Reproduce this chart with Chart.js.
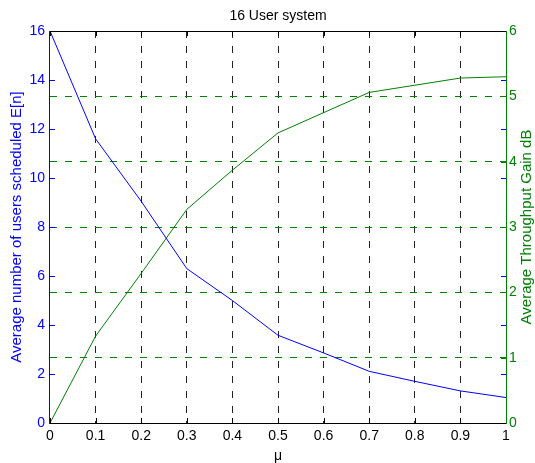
<!DOCTYPE html>
<html>
<head>
<meta charset="utf-8">
<script src="https://cdn.jsdelivr.net/npm/chart.js@4"></script>
<style>
  html, body { margin: 0; padding: 0; background: #fff; }
  canvas { display: block; }
</style>
</head>
<body>
<canvas id="chart" width="535" height="463"></canvas>
<script>
// data
const mu = [0, 0.1, 0.2, 0.3, 0.4, 0.5, 0.6, 0.7, 0.8, 0.9, 1];
const usersScheduled = [16, 11.6, 9.05, 6.3, 5.0, 3.58, 2.86, 2.11, 1.7, 1.31, 1.04];
const throughputGain = [0, 1.33, 2.29, 3.27, 3.87, 4.44, 4.75, 5.06, 5.17, 5.28, 5.3];

const xTickLabels = ['0', '0.1', '0.2', '0.3', '0.4', '0.5', '0.6', '0.7', '0.8', '0.9', '1'];
const leftTicks = [0, 2, 4, 6, 8, 10, 12, 14, 16];
const rightTicks = [0, 1, 2, 3, 4, 5, 6];

const BLUE = '#0000ff';
const GREEN = '#008000';
const FONT = "'Liberation Sans', Arial, Helvetica, sans-serif";

const matlabFrame = {
    id: 'matlabFrame',
    afterDraw(chart) {
        const c = chart.ctx;
        const a = chart.chartArea;
        const yl = chart.scales.yLeft;
        const yr = chart.scales.yRight;
        const x = chart.scales.x;
        c.save();
        c.lineWidth = 1;
        c.setLineDash([]);

        // inner ticks
        c.strokeStyle = '#000';
        c.beginPath();
        mu.forEach(function (v) {
            const px = Math.round(x.getPixelForValue(v)) + 0.5;
            c.moveTo(px, a.bottom); c.lineTo(px, a.bottom - 5);
            c.moveTo(px, a.top); c.lineTo(px, a.top + 5);
        });
        c.stroke();
        c.strokeStyle = BLUE;
        c.beginPath();
        leftTicks.forEach(function (v) {
            const py = Math.round(yl.getPixelForValue(v)) + 0.5;
            c.moveTo(a.left, py); c.lineTo(a.left + 5, py);
            c.moveTo(a.right, py); c.lineTo(a.right - 5, py);
        });
        c.stroke();
        c.strokeStyle = GREEN;
        c.beginPath();
        rightTicks.forEach(function (v) {
            const py = Math.round(yr.getPixelForValue(v)) + 0.5;
            c.moveTo(a.right, py); c.lineTo(a.right - 5, py);
        });
        c.stroke();

        // frame
        c.strokeStyle = '#000';
        c.beginPath();
        c.moveTo(a.left, a.top + 0.5); c.lineTo(a.right, a.top + 0.5);
        c.moveTo(a.left, a.bottom + 0.5); c.lineTo(a.right, a.bottom + 0.5);
        c.stroke();
        c.strokeStyle = BLUE;
        c.beginPath();
        c.moveTo(a.left - 0.5, a.top); c.lineTo(a.left - 0.5, a.bottom + 1);
        c.stroke();
        c.strokeStyle = GREEN;
        c.beginPath();
        c.moveTo(a.right + 0.5, a.top); c.lineTo(a.right + 0.5, a.bottom + 1);
        c.stroke();

        // title, centred on the plot area
        c.fillStyle = '#000';
        c.font = '14px ' + FONT;
        c.textAlign = 'center';
        c.textBaseline = 'middle';
        c.fillText('16 User system', (a.left + a.right) / 2, 16);

        // right axis title reads bottom to top
        c.fillStyle = GREEN;
        c.font = '15px ' + FONT;
        c.translate(527, (a.top + a.bottom) / 2);
        c.rotate(-Math.PI / 2);
        c.fillText('Average Throughput Gain dB', 0, 0);
        c.restore();
    }
};

const ctx = document.getElementById('chart').getContext('2d');
new Chart(ctx, {
    type: 'line',
    data: {
        datasets: [{
            label: 'E[n]',
            data: mu.map((m, i) => ({ x: m, y: usersScheduled[i] })),
            borderColor: BLUE,
            borderWidth: 1,
            pointRadius: 0,
            yAxisID: 'yLeft'
        }, {
            label: 'Gain',
            data: mu.map((m, i) => ({ x: m, y: throughputGain[i] })),
            borderColor: GREEN,
            borderWidth: 1,
            pointRadius: 0,
            yAxisID: 'yRight'
        }]
    },
    options: {
        responsive: false,
        animation: false,
        devicePixelRatio: 1,
        layout: { padding: { top: 31, left: 0, right: 0, bottom: 0 } },
        plugins: {
            legend: { display: false },
            tooltip: { enabled: false },
            title: { display: false }
        },
        scales: {
            x: {
                type: 'linear',
                min: 0,
                max: 1,
                afterBuildTicks: s => { s.ticks = mu.map(v => ({ value: v })); },
                afterFit: s => { s.height = 40; },
                ticks: {
                    color: '#000',
                    font: { family: FONT, size: 14 },
                    padding: 5,
                    maxRotation: 0,
                    autoSkip: false,
                    callback: (v, i) => xTickLabels[i]
                },
                grid: {
                    drawTicks: false,
                    lineWidth: 1,
                    color: c => (c.tick && c.tick.value > 0.001 && c.tick.value < 0.999) ? '#222' : 'rgba(0,0,0,0)'
                },
                border: { display: false, dash: [7, 8] },
                title: {
                    display: true,
                    text: 'μ',
                    color: '#000',
                    font: { family: FONT, size: 14, lineHeight: 1 },
                    padding: 0
                }
            },
            yLeft: {
                position: 'left',
                min: 0,
                max: 16,
                afterBuildTicks: s => { s.ticks = leftTicks.map(v => ({ value: v })); },
                afterFit: s => { s.width = 50; },
                ticks: {
                    color: BLUE,
                    font: { family: FONT, size: 14 },
                    padding: 5
                },
                grid: { display: false, drawTicks: false },
                border: { display: false },
                title: {
                    display: true,
                    text: 'Average number of users scheduled E[n]',
                    color: BLUE,
                    font: { family: FONT, size: 15, lineHeight: 1.2 },
                    padding: { top: 8, bottom: 0 }
                }
            },
            yRight: {
                position: 'right',
                min: 0,
                max: 6,
                afterBuildTicks: s => { s.ticks = rightTicks.map(v => ({ value: v })); },
                afterFit: s => { s.width = 29; },
                ticks: {
                    color: GREEN,
                    font: { family: FONT, size: 14 },
                    padding: 3
                },
                grid: {
                    drawTicks: false,
                    lineWidth: 1,
                    color: c => (c.tick && c.tick.value > 0 && c.tick.value < 6) ? GREEN : 'rgba(0,0,0,0)'
                },
                border: { display: false, dash: [7, 8] },
                title: { display: false }
            }
        }
    },
    plugins: [matlabFrame]
});
</script>
</body>
</html>
